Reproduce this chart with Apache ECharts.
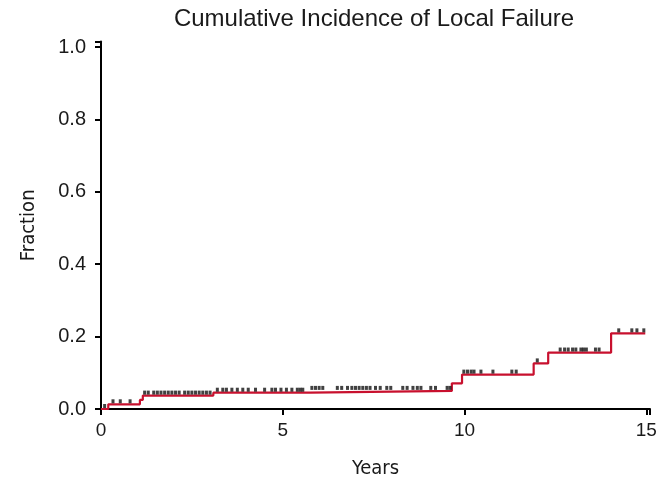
<!DOCTYPE html>
<html><head><meta charset="utf-8">
<script src="https://cdn.jsdelivr.net/npm/echarts@6/dist/echarts.min.js"></script>
<style>html,body{margin:0;padding:0;background:#fff}#c{width:664px;height:485px}</style>
</head><body><div id="c"></div>
<script>
var titleText = 'Cumulative Incidence of Local Failure';
var xTicks = [0, 5, 10, 15];
var yTicks = [0.0, 0.2, 0.4, 0.6, 0.8, 1.0];
// step function: at stepTimes[i] the incidence jumps to stepValues[i]
var stepTimes  = [0,   0.2,   1.07,  1.15,  3.09,  5.75,  9.65,  9.93,  11.9,  12.3,  14.03, 14.97];
var stepValues = [0,   0.013, 0.025, 0.037, 0.045, 0.050, 0.071, 0.095, 0.126, 0.156, 0.209, 0.209];
// censoring times (years)
var censorTimes = [0.1, 0.33, 0.53, 0.8,
  1.2, 1.3, 1.45, 1.55, 1.65, 1.75, 1.85, 1.95, 2.05, 2.15, 2.3, 2.4, 2.5, 2.6, 2.7, 2.8, 2.9, 3.0,
  3.2, 3.35, 3.45, 3.6, 3.75, 3.9, 4.05, 4.25, 4.5, 4.7, 4.8, 4.95, 5.1, 5.25, 5.4, 5.48, 5.55,
  5.8, 5.9, 6.0, 6.1, 6.5, 6.62, 6.78, 6.9, 7.0, 7.1, 7.2, 7.3, 7.4, 7.55, 7.68, 7.86, 7.97,
  8.3, 8.42, 8.58, 8.7, 8.8, 9.07, 9.2, 9.52, 9.6,
  9.98, 10.08, 10.18, 10.26, 10.45, 10.78, 11.3, 11.42,
  12.0, 12.63, 12.75, 12.85, 12.97, 13.06, 13.2, 13.27, 13.35, 13.6, 13.7,
  14.24, 14.6, 14.74, 14.93];

function valueAt(t) {
  var v = 0;
  for (var i = 0; i < stepTimes.length; i++) { if (stepTimes[i] <= t) v = stepValues[i]; }
  return v;
}
var lineData = stepTimes.map(function (t, i) { return [t, stepValues[i]]; });
var censorData = censorTimes.map(function (t) { return [t, valueAt(t)]; });

var narrow = '"DejaVu Sans Condensed", "Liberation Sans Narrow", "Liberation Sans", sans-serif';
var chart = echarts.init(document.getElementById('c'), null, {renderer: 'canvas'});
chart.setOption({
  animation: false,
  backgroundColor: '#fff',
  title: {
    text: titleText, left: 369, textAlign: 'center', top: 2,
    textStyle: {fontFamily: 'Liberation Sans, Arial, sans-serif', fontSize: 24, fontWeight: 'normal', color: '#1a1a1a'}
  },
  grid: {left: 101, right: 14, top: 41.6, bottom: 76},
  xAxis: {
    type: 'value', min: 0, max: 15.1, interval: 5,
    name: 'Years', nameLocation: 'middle', nameGap: 50,
    nameTextStyle: {fontFamily: narrow, fontSize: 20, color: '#1a1a1a'},
    axisLine: {show: true, lineStyle: {color: '#000', width: 2}},
    axisTick: {show: true, length: 6, lineStyle: {color: '#000', width: 2}},
    axisLabel: {fontFamily: 'Liberation Sans, Arial, sans-serif', fontSize: 19, color: '#1a1a1a', margin: 12,
      formatter: function (v) { return xTicks.indexOf(v) >= 0 ? String(v) : ''; }},
    splitLine: {show: false}
  },
  yAxis: {
    type: 'value', min: 0, max: 1.015, interval: 0.2,
    name: 'Fraction', nameLocation: 'middle', nameGap: 62, nameRotate: 90,
    nameTextStyle: {fontFamily: narrow, fontSize: 20, color: '#1a1a1a'},
    axisLine: {show: true, lineStyle: {color: '#000', width: 2}},
    axisTick: {show: true, length: 6, lineStyle: {color: '#000', width: 2}},
    axisLabel: {fontFamily: 'Liberation Sans, Arial, sans-serif', fontSize: 20, color: '#1a1a1a', margin: 15,
      formatter: function (v) {
        for (var i = 0; i < yTicks.length; i++) if (Math.abs(yTicks[i] - v) < 1e-6) return yTicks[i].toFixed(1);
        return '';
      }},
    splitLine: {show: false}
  },
  series: [
    {type: 'line', step: 'end', data: lineData, showSymbol: false, symbol: 'none',
     lineStyle: {color: '#c8102e', width: 2.2}, z: 2},
    {type: 'scatter', data: censorData, symbol: 'rect', symbolSize: [3, 4], symbolOffset: [0, -3],
     itemStyle: {color: '#111'}, z: 3}
  ]
});
</script></body></html>
